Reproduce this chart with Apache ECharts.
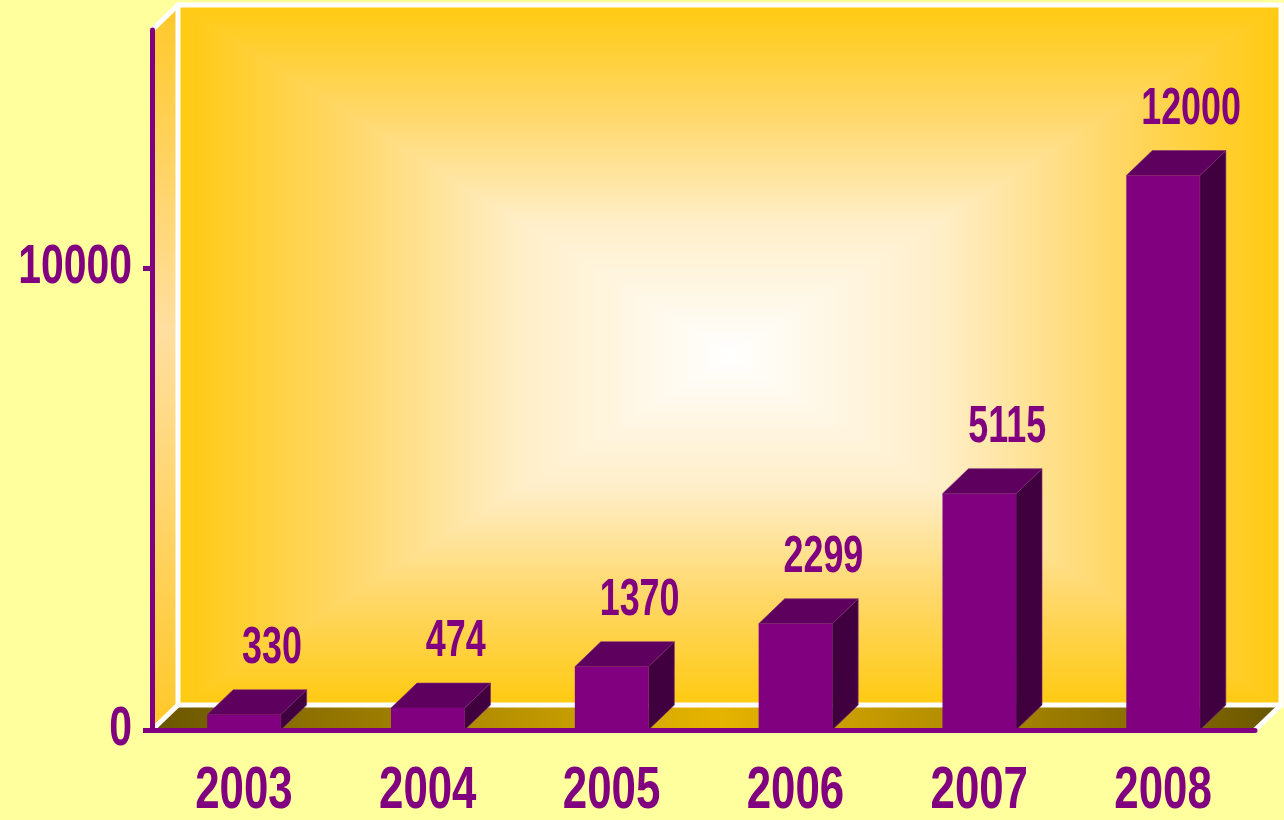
<!DOCTYPE html>
<html>
<head>
<meta charset="utf-8">
<script src="https://cdn.jsdelivr.net/npm/echarts@6/dist/echarts.min.js"></script>
<style>
    html, body { margin: 0; padding: 0; background: #FFFF9E; }
    #chart { width: 1284px; height: 820px; }
</style>
</head>
<body>
<div id="chart"></div>
<script>
// data
var years = ['2003', '2004', '2005', '2006', '2007', '2008'];
var sales = [330, 474, 1370, 2299, 5115, 12000];
var yTicks = [0, 10000];

var PURPLE = '#800080';
var TOP = '#5E005E';
var SIDE = '#400040';
// no narrow font installed, so bold sans is squeezed with scaleX
var FONT = '"Liberation Sans", Arial, sans-serif';

// plot box and 3d depth offset
var G = { left: 152, top: 30, right: 1255, bottom: 730 };
var DX = 26, DY = 25;
var W = { x0: G.left + DX, y0: G.top - DY, x1: G.right + DX, y1: G.bottom - DY };
var cx = (W.x0 + W.x1) / 2, cy = (W.y0 + W.y1) / 2;

function lin(x, y, x2, y2, stops) {
    return new echarts.graphic.LinearGradient(x, y, x2, y2, stops);
}
var wallStops = [
    { offset: 0, color: '#FFCA10' },
    { offset: 0.3, color: '#FFD766' },
    { offset: 0.62, color: '#FFEEC8' },
    { offset: 1, color: '#FFFFFF' }
];

function tri(points, grad) {
    return { type: 'polygon', z: -10, silent: true, shape: { points: points },
        style: { fill: grad, stroke: grad, lineWidth: 1 } };
}

var wall = [
    // left side panel
    { type: 'polygon', z: -10, silent: true,
      shape: { points: [[G.left, G.top], [W.x0, W.y0], [W.x0, W.y1], [G.left, G.bottom]] },
      style: { fill: lin(0, 0, 0, 1, [
          { offset: 0, color: '#FFC828' }, { offset: 0.45, color: '#FFDFA0' },
          { offset: 1, color: '#FFC828' }]) } },
    // back wall, rectangle gradient made of 4 triangles
    tri([[W.x0, W.y0], [W.x1, W.y0], [cx, cy]], lin(0, 0, 0, 1, wallStops)),
    tri([[W.x0, W.y1], [W.x1, W.y1], [cx, cy]], lin(0, 1, 0, 0, wallStops)),
    tri([[W.x0, W.y0], [W.x0, W.y1], [cx, cy]], lin(0, 0, 1, 0, wallStops)),
    tri([[W.x1, W.y0], [W.x1, W.y1], [cx, cy]], lin(1, 0, 0, 0, wallStops)),
    // floor
    { type: 'polygon', z: -9, silent: true,
      shape: { points: [[G.left, G.bottom], [W.x0, W.y1], [W.x1, W.y1], [G.right, G.bottom]] },
      style: { fill: lin(0, 0, 1, 0, [
          { offset: 0, color: '#6A5600' }, { offset: 0.5, color: '#E6B400' },
          { offset: 1, color: '#6A5600' }]) } },
    // white edges
    { type: 'rect', z: -8, silent: true,
      shape: { x: W.x0, y: W.y0, width: W.x1 - W.x0, height: W.y1 - W.y0 },
      style: { fill: null, stroke: '#fff', lineWidth: 5 } },
    { type: 'line', z: -8, silent: true, shape: { x1: G.left, y1: G.top, x2: W.x0, y2: W.y0 },
      style: { stroke: '#fff', lineWidth: 5 } },
    { type: 'line', z: -8, silent: true, shape: { x1: G.left, y1: G.bottom, x2: W.x0, y2: W.y1 },
      style: { stroke: '#fff', lineWidth: 5 } },
    { type: 'line', z: -8, silent: true, shape: { x1: G.right, y1: G.bottom, x2: W.x1, y2: W.y1 },
      style: { stroke: '#fff', lineWidth: 5 } }
];

function label(x, y, text, size, squeeze, align, vAlign) {
    return { type: 'text', x: x, y: y, scaleX: squeeze,
             style: { text: text, fill: PURPLE, font: 'bold ' + size + 'px ' + FONT,
                      align: align, verticalAlign: vAlign } };
}

function renderBar(params, api) {
    var idx = api.value(0);
    var base = api.coord([idx, 0]);
    var top = api.coord([idx, api.value(1)]);
    var w = api.size([1, 0])[0] * 0.4;
    var x0 = base[0] - w / 2, x1 = base[0] + w / 2;
    var y0 = base[1], y1 = top[1];
    var edge = { stroke: '#7A2A7A', lineWidth: 0.6 };
    return {
        type: 'group',
        children: [
            { type: 'polygon', shape: { points: [[x1, y1], [x1 + DX, y1 - DY], [x1 + DX, y0 - DY], [x1, y0]] },
              style: Object.assign({ fill: SIDE }, edge) },
            { type: 'polygon', shape: { points: [[x0, y1], [x1, y1], [x1 + DX, y1 - DY], [x0 + DX, y1 - DY]] },
              style: Object.assign({ fill: TOP }, edge) },
            { type: 'rect', shape: { x: x0, y: y1, width: w, height: y0 - y1 },
              style: { fill: PURPLE } },
            label(base[0] + 28, y1 - 40, String(api.value(1)), 52, 0.69, 'center', 'bottom')
        ]
    };
}

// category labels under the x axis
function renderYear(params, api) {
    var p = api.coord([api.value(0), 0]);
    return label(p[0], p[1] + 61, years[params.dataIndex], 60, 0.73, 'center', 'middle');
}

// value labels left of the y axis
function renderTick(params, api) {
    var p = api.coord([0, api.value(0)]);
    return label(G.left - 20, p[1], String(api.value(0)), 56, 0.73, 'right', 'middle');
}

var chart = echarts.init(document.getElementById('chart'));
chart.setOption({
    backgroundColor: '#FFFF9E',
    animation: false,
    graphic: { elements: wall },
    grid: { left: G.left, right: 1284 - G.right, top: G.top, bottom: 820 - G.bottom,
            containLabel: false, outerBoundsMode: 'none' },
    xAxis: {
        type: 'category',
        data: years,
        z: 5,
        axisLine: { lineStyle: { color: PURPLE, width: 5 } },
        axisTick: { length: 12, lineStyle: { color: PURPLE, width: 5, cap: 'round' } },
        axisLabel: { show: false }
    },
    yAxis: {
        type: 'value',
        min: 0,
        max: 15150,
        interval: 10000,
        z: 5,
        splitLine: { show: false },
        axisLine: { show: true, lineStyle: { color: PURPLE, width: 5, cap: 'round' } },
        axisTick: { show: true, length: 9, customValues: yTicks,
                    lineStyle: { color: PURPLE, width: 5 } },
        axisLabel: { show: false }
    },
    series: [{
        type: 'custom',
        renderItem: renderBar,
        clip: false,
        data: sales.map(function (v, i) { return [i, v]; })
    }, {
        type: 'custom',
        renderItem: renderYear,
        clip: false,
        silent: true,
        data: years.map(function (y, i) { return [i, 0]; })
    }, {
        type: 'custom',
        renderItem: renderTick,
        clip: false,
        silent: true,
        encode: { y: 0 },
        data: yTicks.map(function (v) { return [v]; })
    }]
});
</script>
</body>
</html>
